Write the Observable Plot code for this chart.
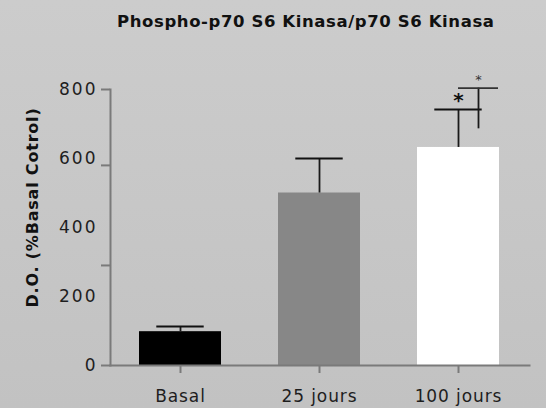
<!DOCTYPE html>
<html>
<head>
<meta charset="utf-8">
<script src="https://cdn.jsdelivr.net/npm/d3@7"></script>
<script src="https://cdn.jsdelivr.net/npm/@observablehq/plot@0.6"></script>
<style>
  html, body { margin: 0; padding: 0; }
  body { width: 546px; height: 408px; background: linear-gradient(#cccccc, #c2c2c2); font-family: "DejaVu Sans", sans-serif; overflow: hidden; }
  #title { height: 45px; box-sizing: border-box; padding-top: 12px; padding-left: 117px; font-weight: 700; font-size: 16.5px; letter-spacing: 0.6px; color: #111; white-space: nowrap; }
  svg { display: block; }
</style>
</head>
<body>
<div id="title">Phospho-p70 S6 Kinasa/p70 S6 Kinasa</div>
<div id="chart"></div>
<script>
const categories = ["Basal", "25 jours", "100 jours"];
const means = [98, 500, 632];
const errTop = [113, 600, 742];
const barColors = ["#000000", "#878787", "#ffffff"];
const yTickLabels = [0, 200, 400, 600, 800];
const yTickMarks = [0, 290, 580, 800];
// second significance bracket on "100 jours"
const bracketTop = 804;
const bracketBottom = 686;
const yLabel = "D.O. (%Basal Cotrol)";

const bars = categories.map((c, i) => ({cat: c, mean: means[i], top: errTop[i], color: barColors[i]}));
const last = bars[bars.length - 1];

const chart = Plot.plot({
  width: 546,
  height: 363,
  marginLeft: 110,
  marginRight: 17,
  marginTop: 44,
  marginBottom: 43,
  style: {fontFamily: "DejaVu Sans, sans-serif", background: "transparent", color: "#222"},
  x: {domain: categories, paddingInner: 0.41, paddingOuter: 0.205, label: null},
  y: {domain: [0, 800], label: null},
  marks: [
    Plot.barY(bars, {x: "cat", y: "mean", fill: "color"}),
    // error bars
    Plot.ruleX(bars, {x: "cat", y1: "mean", y2: "top", stroke: "#1a1a1a", strokeWidth: 1.8}),
    Plot.tickY(bars, {x: "cat", y: "top", stroke: "#111", strokeWidth: 1.8, insetLeft: 17.3, insetRight: 17.3}),
    // second bracket
    Plot.ruleX([last], {x: "cat", y1: bracketBottom, y2: bracketTop, dx: 20, stroke: "#1a1a1a", strokeWidth: 1.8}),
    Plot.tickY([last], {x: "cat", y: bracketTop, stroke: "#333", strokeWidth: 1.8, insetLeft: 41, insetRight: 1}),
    Plot.text([last], {x: "cat", y: 768, text: () => "*", fontSize: 20, fontWeight: 700, fill: "#111", lineAnchor: "middle"}),
    Plot.text([last], {x: "cat", y: 828, text: () => "*", dx: 20, fontSize: 13, fill: "#333", lineAnchor: "middle"}),
    // axes lines
    Plot.frame({anchor: "left", stroke: "#7a7a7a", strokeWidth: 2}),
    Plot.frame({anchor: "bottom", stroke: "#7a7a7a", strokeWidth: 2}),
    Plot.axisY(yTickMarks, {tickSize: 9, fill: "none", stroke: "#7a7a7a", strokeWidth: 2, label: null}),
    Plot.axisY(yTickLabels, {tickSize: 0, tickPadding: 13, fontSize: 17, fill: "#1e1e1e", label: null}),
    Plot.axisX({tickSize: 8, tickPadding: 16, fontSize: 17, stroke: "#7a7a7a", strokeWidth: 2, fill: "#1e1e1e", label: null}),
    Plot.text([yLabel], {frameAnchor: "left", text: d => d, rotate: -90, dx: -78, dy: -20, fontSize: 16, fontWeight: 700, fill: "#111", textAnchor: "middle", lineAnchor: "middle"})
  ]
});
chart.querySelectorAll('[aria-label="x-axis tick label"] text').forEach(t => t.style.letterSpacing = "0.9px");
chart.querySelectorAll('[aria-label="y-axis tick label"] text').forEach(t => t.style.letterSpacing = "2px");
chart.querySelectorAll('text').forEach(t => { if (t.textContent === yLabel) t.style.letterSpacing = "0.8px"; });
document.getElementById("chart").append(chart);
</script>
</body>
</html>
